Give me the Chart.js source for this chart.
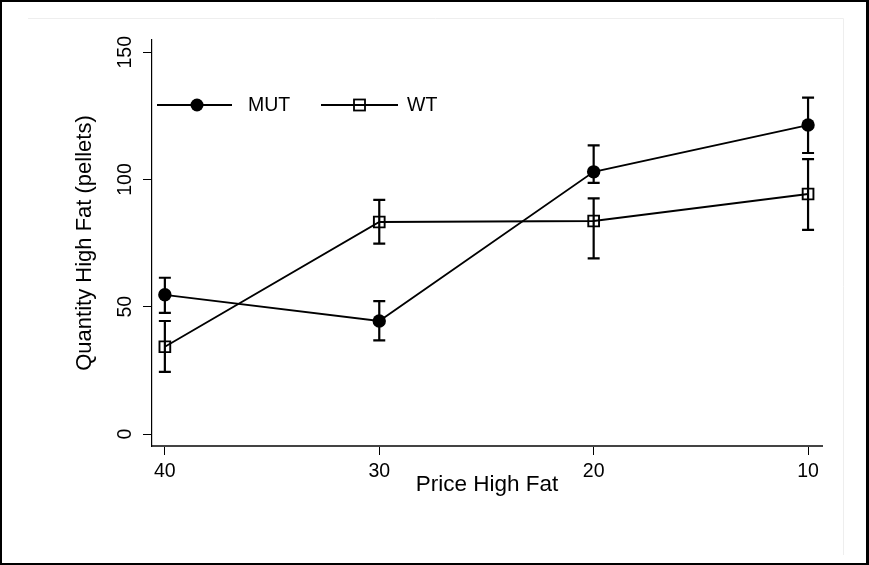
<!DOCTYPE html>
<html>
<head>
<meta charset="utf-8">
<script src="https://cdn.jsdelivr.net/npm/chart.js@4.4.1/dist/chart.umd.min.js"></script>
<style>
  html, body { margin: 0; padding: 0; background: #ffffff; }
  #wrap { width: 869px; height: 565px; position: relative; }
  canvas { display: block; }
</style>
</head>
<body>
<div id="wrap"><canvas id="c" width="869" height="565"></canvas></div>
<script>
// ---- data ----
const prices   = [40, 30, 20, 10];
const mutMean  = [54.7, 44.4, 103.0, 121.4];
const mutLow   = [47.6, 36.8, 98.7, 110.4];
const mutHigh  = [61.4, 52.2, 113.4, 132.2];
const wtMean   = [34.3, 83.3, 83.7, 94.3];
const wtLow    = [24.4, 74.8, 69.0, 80.2];
const wtHigh   = [44.4, 92.0, 92.6, 108.0];
const xTickValues = [40, 30, 20, 10];
const yTickValues = [0, 50, 100, 150];
const seriesNames = ['MUT', 'WT'];
const xTitle = 'Price High Fat';
const yTitle = 'Quantity High Fat (pellets)';

const FONT = "'Liberation Sans', Arial, Helvetica, sans-serif";

function pts(xs, ys) { return xs.map((x, i) => ({x: x, y: ys[i]})); }

const errorBars = {
  id: 'errorBars',
  beforeDatasetsDraw(chart) {
    const ctx = chart.ctx;
    const xs = chart.scales.x, ys = chart.scales.y;
    const sets = [[mutLow, mutHigh], [wtLow, wtHigh]];
    ctx.save();
    ctx.strokeStyle = '#000';
    ctx.lineWidth = 2.2;
    ctx.lineCap = 'butt';
    sets.forEach(([lo, hi]) => {
      prices.forEach((p, i) => {
        const px = xs.getPixelForValue(p);
        const y1 = ys.getPixelForValue(lo[i]);
        const y2 = ys.getPixelForValue(hi[i]);
        ctx.beginPath();
        ctx.moveTo(px, y1); ctx.lineTo(px, y2);
        ctx.moveTo(px - 6, y1); ctx.lineTo(px + 6, y1);
        ctx.moveTo(px - 6, y2); ctx.lineTo(px + 6, y2);
        ctx.stroke();
      });
    });
    ctx.restore();
  }
};

const legendAndFrame = {
  id: 'legendAndFrame',
  afterDraw(chart) {
    const ctx = chart.ctx;
    ctx.save();
    // faint inner frame
    ctx.strokeStyle = '#eeeeee';
    ctx.lineWidth = 1;
    ctx.beginPath();
    ctx.moveTo(28, 18.5); ctx.lineTo(843.5, 18.5); ctx.lineTo(843.5, 555);
    ctx.stroke();
    // outer black border
    ctx.strokeStyle = '#000';
    ctx.lineWidth = 4;
    ctx.strokeRect(0, 0, 869, 565);
    ctx.fillStyle = '#000';
    ctx.fillRect(866, 0, 3, 565);

    // legend
    const items = [
      {x0: 157, x1: 232, mx: 197, tx: 248, ds: chart.data.datasets[0]},
      {x0: 321, x1: 398, mx: 359.5, tx: 407, ds: chart.data.datasets[1]}
    ];
    const ly = 105;
    items.forEach(it => {
      ctx.strokeStyle = '#000';
      ctx.lineWidth = 1.8;
      ctx.beginPath();
      ctx.moveTo(it.x0, ly); ctx.lineTo(it.x1, ly);
      ctx.stroke();
      if (it.ds.pointStyle === 'circle') {
        ctx.fillStyle = '#000';
        ctx.beginPath(); ctx.arc(it.mx, ly, 6.5, 0, Math.PI * 2); ctx.fill();
      } else {
        ctx.lineWidth = 1.8;
        ctx.strokeRect(it.mx - 5.5, ly - 5.5, 11, 11);
      }
      ctx.fillStyle = '#000';
      ctx.font = '19.5px ' + FONT;
      ctx.textAlign = 'left';
      ctx.textBaseline = 'middle';
      ctx.fillText(it.ds.label, it.tx, ly + 1);
    });
    ctx.restore();
  }
};

Chart.defaults.font.family = FONT;
Chart.defaults.color = '#000';

new Chart(document.getElementById('c'), {
  type: 'line',
  data: {
    datasets: [
      {
        label: seriesNames[0],
        data: pts(prices, mutMean),
        borderColor: '#000',
        borderWidth: 1.8,
        backgroundColor: '#000',
        pointStyle: 'circle',
        pointRadius: 6.7,
        pointBorderWidth: 0,
        pointBackgroundColor: '#000',
        tension: 0,
        fill: false
      },
      {
        label: seriesNames[1],
        data: pts(prices, wtMean),
        borderColor: '#000',
        borderWidth: 1.8,
        backgroundColor: 'rgba(0,0,0,0)',
        pointStyle: 'rect',
        pointRadius: 7.6,
        pointBorderWidth: 1.9,
        pointBorderColor: '#000',
        pointBackgroundColor: 'rgba(0,0,0,0)',
        tension: 0,
        fill: false
      }
    ]
  },
  options: {
    responsive: false,
    animation: false,
    devicePixelRatio: 1,
    layout: { padding: { top: 40, right: 47, bottom: 0, left: 0 } },
    plugins: { legend: { display: false }, tooltip: { enabled: false } },
    scales: {
      x: {
        type: 'linear',
        reverse: true,
        min: 9.35,
        max: 40.6,
        afterBuildTicks(scale) { scale.ticks = xTickValues.map(v => ({value: v})); },
        afterFit(scale) { scale.height = 119; },
        border: { display: true, color: '#444', width: 2 },
        grid: { display: true, drawOnChartArea: false, drawTicks: true, tickLength: 9, tickColor: '#000', tickWidth: 1 },
        ticks: { font: { size: 19.5 }, color: '#000', padding: 5, maxRotation: 0, autoSkip: false },
        title: { display: true, text: xTitle, font: { size: 22.5 }, color: '#000', padding: { top: 0, bottom: 66.5 } }
      },
      y: {
        type: 'linear',
        min: -4.7,
        max: 154.8,
        afterBuildTicks(scale) { scale.ticks = yTickValues.map(v => ({value: v})); },
        afterFit(scale) { scale.width = 152; },
        border: { display: true, color: '#000', width: 1.2 },
        grid: { display: true, drawOnChartArea: false, drawTicks: true, tickLength: 9, tickColor: '#000', tickWidth: 1 },
        ticks: { font: { size: 19.5 }, color: '#000', padding: 1, minRotation: 90, maxRotation: 90, crossAlign: 'center', autoSkip: false },
        title: { display: true, text: yTitle, font: { size: 22 }, color: '#000', padding: { top: 71.5, bottom: 0 } }
      }
    }
  },
  plugins: [errorBars, legendAndFrame]
});
</script>
</body>
</html>
